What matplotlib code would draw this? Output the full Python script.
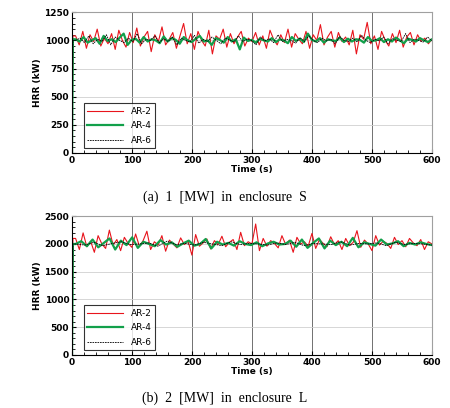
import numpy as np
import matplotlib
matplotlib.use("Agg")
import matplotlib.pyplot as plt

s_ar2 = [1040, 960, 1080, 930, 1050, 990, 1100, 950, 1020, 970, 1060, 920, 1090, 1000, 940, 1070, 980, 1110, 950, 1030,
         1080, 900, 1050, 990, 1120, 960, 1010, 1070, 930, 1040, 1150, 970, 1060, 920, 1080, 1000, 950, 1090, 880, 1040,
         1010, 1100, 940, 1060, 970, 1030, 1080, 950, 1020, 990, 1070, 960, 1040, 930, 1090, 1010, 960, 1050, 980, 1100,
         940, 1060, 1010, 970, 1080, 930, 1050, 1000, 1140, 960, 1030, 1080, 940, 1070, 990, 1030, 960, 1090, 880, 1050,
         1010, 1160, 970, 1040, 920, 1080, 1000, 950, 1060, 980, 1090, 940, 1030, 1070, 960, 1050, 990, 1020, 970, 1010]
s_ar4 = [1010, 990, 1030, 980, 1000, 1020, 970, 1040, 995, 1010, 985, 1025, 1060, 960, 1005, 1015, 980, 1030, 990, 1010,
         1000, 975, 1035, 990, 1020, 1005, 970, 1030, 1000, 985, 1015, 1040, 990, 1000, 960, 1020, 1005, 980, 1030, 990,
         1010, 920, 1025, 995, 1005, 980, 1015, 1000, 990, 1020, 985, 1010, 1000, 975, 1030, 995, 1015, 985, 1060, 1005,
         990, 1020, 980, 1010, 1000, 995, 1025, 985, 1015, 990, 1010, 1005, 980, 1030, 995, 1000, 1020, 985, 1010, 990,
         1025, 1000, 975, 1015, 1005, 990, 1020, 1000, 985, 1010]
s_ar6 = [1000, 1020, 980, 1040, 970, 1010, 990, 1050, 960, 1030, 1000, 980, 1020, 990, 1060, 970, 1010, 1000, 1040, 980,
         1015, 990, 1030, 960, 1020, 1000, 985, 1045, 975, 1010, 990, 1030, 1000, 970, 1020, 1005, 985, 1040, 990, 1010,
         1000, 960, 1030, 995, 1015, 980, 1050, 990, 1010, 1000, 975, 1025, 990, 1040, 1000, 980, 1020, 995, 1010, 970,
         1035, 1000, 990, 1020, 985, 1045, 1000, 980, 1010, 995, 1030, 970, 1015, 1000, 990, 1060, 980, 1010, 1000, 985,
         1030, 995]
l_ar2 = [2100, 1900, 2200, 1950, 2050, 1850, 2150, 2000, 1920, 2250, 1980, 2080, 1880, 2120, 2010, 1940, 2180, 1960, 2060, 2230,
         1900, 2040, 1980, 2150, 1870, 2070, 2000, 1930, 2110, 1990, 2050, 1800, 2170, 1960, 2020, 2090, 1910, 2060, 1990, 2140,
         1950, 2030, 2080, 1900, 2210, 1970, 2040, 2000, 2360, 1880, 2100, 1960, 2060, 2010, 1930, 2150, 1990, 2070, 1850, 2120,
         2000, 2040, 1960, 2190, 1920, 2080, 2010, 1950, 2130, 1990, 2060, 1900, 2100, 1970, 2030, 2240, 1940, 2070, 2000, 1880,
         2150, 1980, 2050, 2010, 1920, 2120, 1990, 2060, 1950, 2100, 2020, 1970, 2080, 1900, 2040, 2000]
l_ar4 = [2000, 2050, 1960, 2080, 1940, 2020, 2100, 1900, 2060, 1980, 2120, 1930, 2040, 2000, 1960, 2070, 1990, 2030, 1950, 2010,
         2060, 1970, 2000, 2090, 1920, 2040, 1990, 2020, 1970, 2050, 2000, 1980, 2030, 1960, 2010, 2040, 1990, 2000, 2060, 1950,
         2080, 1930, 2020, 2100, 1920, 2060, 1980, 2040, 1960, 2110, 1940, 2030, 2000, 1970, 2080, 1990, 2010, 2050, 1960, 2020,
         1990, 2030, 2000, 1980]
l_ar6 = [2000, 1980, 2030, 1970, 2010, 2040, 1990, 2000, 2020, 1960, 2050, 1990, 2010, 1980, 2030, 2000, 1970, 2040, 1990, 2010,
         2000, 1980, 2020, 1990, 2030, 1970, 2010, 2000, 1990, 2040, 1980, 2010, 2000, 2020, 1970, 2030, 1990, 2010, 2000, 1980]

panels = [
    ([s_ar2, s_ar4, s_ar6], 1250, 250, "(a)  1  [MW]  in  enclosure  S"),
    ([l_ar2, l_ar4, l_ar6], 2500, 500, "(b)  2  [MW]  in  enclosure  L"),
]
styles = [("AR-2", "#e8141c", 0.8, "-"), ("AR-4", "#12a04a", 1.6, "-"), ("AR-6", "black", 0.6, (0, (2, 1)))]

fig = plt.figure(figsize=(4.5, 4.08), dpi=100)
boxes = [[0.16, 0.625, 0.80, 0.345], [0.16, 0.13, 0.80, 0.34]]
caption_y = [0.508, 0.015]
tick_font = dict(family="DejaVu Sans", size=6.5, weight="bold")

for (series, ymax, ystep, caption), box, cy in zip(panels, boxes, caption_y):
    ax = fig.add_axes(box)
    for vals, (lab, col, lw, ls) in zip(series, styles):
        t = np.concatenate([[0, 1.5], np.linspace(6, 600, len(vals))])
        y = np.concatenate([[0, vals[0]], vals])
        ax.plot(t, y, color=col, lw=lw, ls=ls, label=lab)
    ax.set_xlim(0, 600)
    ax.set_ylim(0, ymax)
    ax.set_xticks(range(0, 601, 100))
    ax.set_xticks(range(0, 601, 20), minor=True)
    ax.set_yticks(range(0, ymax + 1, ystep))
    ax.set_yticks(range(0, ymax + 1, ystep // 5), minor=True)
    ax.tick_params(direction="in", length=3, labelsize=6.5, pad=2)
    ax.tick_params(which="minor", direction="in", length=2)
    for lbl in ax.get_xticklabels() + ax.get_yticklabels():
        lbl.set_fontweight("bold")
    ax.grid(axis="x", color="#707070", lw=0.7)
    ax.grid(axis="y", color="#d0d0d0", lw=0.6)
    for side in ["top", "right"]:
        ax.spines[side].set_color("#a0a0a0")
    ax.set_ylabel("HRR (kW)", fontdict=tick_font, labelpad=2)
    ax.set_xlabel("Time (s)", fontdict=tick_font, labelpad=0)
    leg = ax.legend(loc="lower left", bbox_to_anchor=(0.02, 0.0), fontsize=6.5, frameon=True,
                    fancybox=False, edgecolor="black", handlelength=4, borderpad=0.4, labelspacing=0.6)
    leg.get_frame().set_linewidth(0.8)
    fig.text(0.5, cy, caption, ha="center", family="Liberation Serif", fontsize=10)

fig.savefig("out.png", dpi=100)
